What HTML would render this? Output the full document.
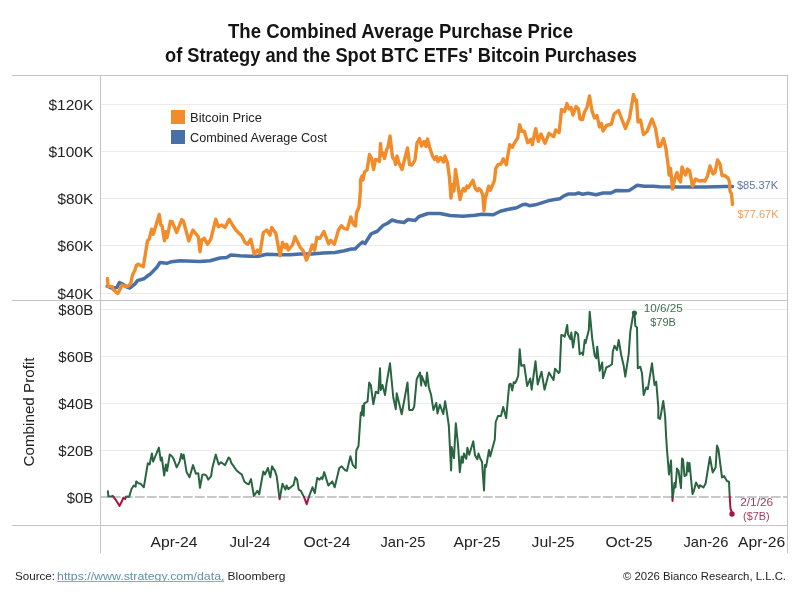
<!DOCTYPE html>
<html><head><meta charset="utf-8"><style>
html,body{margin:0;padding:0;background:#fff;}
body{width:800px;height:600px;overflow:hidden;position:relative;font-family:"Liberation Sans",sans-serif;}
svg{position:absolute;left:0;top:0;will-change:transform;}
text{font-family:"Liberation Sans",sans-serif;}
</style></head><body>
<svg width="800" height="600" viewBox="0 0 800 600">
<rect width="800" height="600" fill="#fff"/>
<!-- title -->
<text x="400.5" y="38" text-anchor="middle" font-size="20" font-weight="bold" fill="#141414" textLength="345" lengthAdjust="spacingAndGlyphs">The Combined Average Purchase Price</text>
<text x="401" y="61.75" text-anchor="middle" font-size="20" font-weight="bold" fill="#141414" textLength="472" lengthAdjust="spacingAndGlyphs">of Strategy and the Spot BTC ETFs' Bitcoin Purchases</text>
<!-- gridlines -->
<g stroke="#ebebeb" stroke-width="1" shape-rendering="crispEdges">
<line x1="100" x2="788" y1="104.5" y2="104.5"/>
<line x1="100" x2="788" y1="151.5" y2="151.5"/>
<line x1="100" x2="788" y1="198.5" y2="198.5"/>
<line x1="100" x2="788" y1="245.5" y2="245.5"/>
<line x1="100" x2="788" y1="293.5" y2="293.5"/>
<line x1="100" x2="788" y1="309.5" y2="309.5"/>
<line x1="100" x2="788" y1="356.5" y2="356.5"/>
<line x1="100" x2="788" y1="403.5" y2="403.5"/>
<line x1="100" x2="788" y1="450.5" y2="450.5"/>
</g>
<line x1="101" x2="787" y1="497" y2="497" stroke="#c8c8c8" stroke-width="2" stroke-dasharray="9.75 2.25" stroke-dashoffset="2.1"/>
<!-- frame -->
<g stroke="#c4c4c4" stroke-width="1" shape-rendering="crispEdges">
<line x1="12" x2="788" y1="75.5" y2="75.5"/>
<line x1="12" x2="788" y1="300.5" y2="300.5"/>
<line x1="12" x2="788" y1="525.5" y2="525.5"/>
<line x1="100.5" x2="100.5" y1="75" y2="553"/>
<line x1="787.5" x2="787.5" y1="75" y2="553"/>
</g>
<!-- y labels top -->
<g font-size="15" fill="#222" text-anchor="end">
<text x="93.3" y="110" textLength="44.8" lengthAdjust="spacingAndGlyphs">$120K</text>
<text x="93.3" y="157" textLength="44.8" lengthAdjust="spacingAndGlyphs">$100K</text>
<text x="93.3" y="204" textLength="35.8" lengthAdjust="spacingAndGlyphs">$80K</text>
<text x="93.3" y="251" textLength="35.8" lengthAdjust="spacingAndGlyphs">$60K</text>
<text x="93.3" y="298.5" textLength="35.8" lengthAdjust="spacingAndGlyphs">$40K</text>
<text x="93.3" y="315" textLength="35" lengthAdjust="spacingAndGlyphs">$80B</text>
<text x="93.3" y="362" textLength="35" lengthAdjust="spacingAndGlyphs">$60B</text>
<text x="93.3" y="409" textLength="35" lengthAdjust="spacingAndGlyphs">$40B</text>
<text x="93.3" y="456" textLength="35" lengthAdjust="spacingAndGlyphs">$20B</text>
<text x="93.3" y="502.5" textLength="26.5" lengthAdjust="spacingAndGlyphs">$0B</text>
</g>
<text transform="translate(34.3,412) rotate(-90)" text-anchor="middle" font-size="15" fill="#222" textLength="109" lengthAdjust="spacingAndGlyphs">Combined Profit</text>
<!-- x labels -->
<g font-size="15" fill="#222" text-anchor="middle">
<text x="174" y="546.8" textLength="47" lengthAdjust="spacingAndGlyphs">Apr-24</text>
<text x="250" y="546.8" textLength="41" lengthAdjust="spacingAndGlyphs">Jul-24</text>
<text x="327" y="546.8" textLength="47" lengthAdjust="spacingAndGlyphs">Oct-24</text>
<text x="403" y="546.8" textLength="45" lengthAdjust="spacingAndGlyphs">Jan-25</text>
<text x="477" y="546.8" textLength="47" lengthAdjust="spacingAndGlyphs">Apr-25</text>
<text x="553" y="546.8" textLength="43" lengthAdjust="spacingAndGlyphs">Jul-25</text>
<text x="629" y="546.8" textLength="47" lengthAdjust="spacingAndGlyphs">Oct-25</text>
<text x="706" y="546.8" textLength="45" lengthAdjust="spacingAndGlyphs">Jan-26</text>
<text x="761.6" y="546.8" textLength="47" lengthAdjust="spacingAndGlyphs">Apr-26</text>
</g>
<!-- legend -->
<rect x="171" y="110" width="14" height="14" fill="#f28c2a"/>
<rect x="171" y="130" width="14" height="14" fill="#4870a6"/>
<g font-size="12.9" fill="#222">
<text x="190" y="121.9" textLength="72" lengthAdjust="spacingAndGlyphs">Bitcoin Price</text>
<text x="190" y="141.9" textLength="137" lengthAdjust="spacingAndGlyphs">Combined Average Cost</text>
</g>
<!-- lines -->
<g fill="none" stroke-linejoin="round" stroke-linecap="round">
<path d="M107.2,286.2 L111.9,288.1 L116.9,287.5 L119.4,282.5 L122.5,284.0 L126.0,286.5 L130.0,288.0 L135.0,283.8 L137.5,280.6 L143.8,278.8 L148.8,275.0 L150.0,274.4 L156.7,267.5 L160.0,262.5 L166.7,263.3 L171.7,261.7 L180.0,260.8 L200.0,261.5 L210.0,260.8 L220.0,258.0 L226.7,257.5 L230.8,255.0 L240.0,255.8 L250.0,256.3 L258.3,256.3 L266.7,254.2 L280.0,254.7 L290.0,254.7 L300.0,254.0 L311.7,253.9 L323.3,253.1 L335.0,252.5 L344.3,250.8 L351.3,249.0 L355.0,249.0 L359.0,245.0 L362.5,242.0 L365.0,243.5 L367.5,239.5 L371.0,234.0 L374.0,232.5 L377.0,231.5 L383.0,225.5 L388.0,223.0 L392.0,220.0 L397.0,221.5 L404.0,222.5 L408.0,219.5 L415.0,220.5 L419.0,216.5 L428.0,213.5 L440.0,213.5 L450.0,215.5 L463.0,216.2 L475.0,215.2 L481.7,214.2 L493.3,214.8 L500.3,211.3 L507.3,209.5 L516.7,207.8 L522.5,204.8 L526.0,204.3 L529.4,205.7 L535.5,204.8 L542.5,202.6 L549.5,200.4 L554.7,199.6 L560.0,198.7 L563.5,196.1 L568.7,193.9 L575.7,193.9 L578.4,193.0 L582.7,194.3 L588.0,193.2 L596.1,194.7 L603.1,193.0 L611.0,193.0 L616.2,190.4 L625.0,190.8 L629.4,190.4 L637.2,185.2 L644.2,186.3 L653.0,186.3 L660.0,186.8 L675.0,187.0 L695.0,187.0 L705.0,187.0 L715.0,186.8 L725.0,186.6 L732.5,186.4" stroke="#4870a6" stroke-width="3.5"/>
<path d="M107.5,278.4 L108.1,286.3 L112.2,286.6 L113.1,289.4 L117.8,293.5 L120.6,288.1 L121.9,285.0 L125.0,286.2 L128.1,286.2 L130.6,283.8 L132.5,275.0 L135.0,270.0 L136.5,265.0 L138.3,264.2 L143.3,266.7 L147.5,240.8 L149.2,239.2 L151.7,229.2 L153.3,234.2 L159.2,214.5 L160.8,225.0 L162.1,225.8 L164.4,240.8 L165.8,231.7 L167.1,237.5 L170.4,221.3 L172.1,221.7 L176.7,232.5 L181.7,219.6 L183.3,220.8 L188.8,240.8 L192.9,230.0 L198.3,236.7 L200.0,251.7 L201.7,240.0 L204.2,238.3 L207.5,244.2 L210.8,239.2 L215.8,219.2 L218.3,226.7 L221.7,225.0 L225.0,227.5 L229.2,219.2 L232.5,225.0 L235.8,230.0 L241.7,235.8 L245.0,242.5 L247.5,244.2 L250.8,239.2 L254.2,254.2 L257.5,250.0 L260.0,253.3 L263.3,232.5 L266.7,230.0 L270.0,235.0 L271.7,227.5 L275.8,233.3 L280.0,255.8 L282.5,242.5 L285.0,247.5 L286.7,244.2 L288.3,250.0 L292.5,245.0 L295.0,236.7 L297.5,241.7 L300.0,247.0 L303.5,251.3 L306.4,260.1 L309.3,253.7 L312.3,244.9 L314.6,250.2 L316.9,237.3 L319.8,238.5 L323.9,231.5 L328.6,243.8 L330.9,240.3 L334.4,244.3 L338.5,229.8 L341.4,225.7 L344.3,228.6 L347.3,229.2 L350.8,216.9 L353.1,223.9 L355.5,226.0 L356.5,213.0 L359.0,207.0 L360.5,190.0 L360.5,180.0 L362.0,176.0 L363.0,180.0 L364.5,172.0 L367.0,170.0 L369.5,154.5 L371.5,158.0 L373.5,169.5 L375.5,159.5 L377.5,160.0 L379.5,161.5 L380.5,143.5 L381.5,155.0 L382.5,152.5 L384.5,158.5 L386.5,150.0 L388.0,147.0 L390.0,136.0 L392.5,157.0 L394.5,160.0 L395.5,164.5 L397.0,156.0 L399.0,163.0 L402.0,169.5 L407.5,148.0 L409.5,164.5 L412.0,165.0 L415.0,160.0 L417.0,143.0 L419.5,138.5 L421.5,146.0 L424.0,141.5 L426.0,146.5 L427.5,139.0 L429.5,147.0 L432.5,156.0 L434.5,159.5 L436.5,156.5 L438.0,161.5 L440.5,157.5 L443.5,162.0 L445.0,156.0 L447.5,163.0 L449.5,178.0 L451.0,198.0 L452.5,184.5 L454.0,191.0 L455.5,169.5 L458.0,186.0 L460.0,199.5 L462.0,191.5 L463.5,188.5 L465.0,191.0 L467.0,186.0 L468.5,187.5 L472.9,180.3 L475.3,188.5 L477.6,190.8 L478.8,188.5 L481.1,190.8 L482.8,194.9 L484.0,210.7 L485.2,199.0 L488.7,186.2 L490.4,190.3 L494.5,180.3 L495.7,168.7 L498.0,164.6 L500.9,164.0 L503.3,158.8 L506.3,164.7 L509.7,144.7 L512.3,147.3 L515.0,142.0 L517.7,138.0 L519.7,124.7 L521.7,131.3 L524.3,131.3 L527.7,142.7 L531.0,139.3 L532.3,144.7 L535.7,128.7 L538.3,141.3 L541.0,134.0 L545.0,143.3 L549.0,133.3 L553.7,136.7 L555.7,130.0 L559.0,132.7 L560.5,120.0 L561.5,109.5 L564.5,111.5 L567.0,103.5 L569.0,109.0 L571.0,107.5 L573.0,115.0 L576.0,106.5 L578.5,109.0 L580.0,119.0 L582.5,119.5 L584.5,112.0 L587.0,107.5 L589.5,96.0 L592.0,111.0 L594.5,118.0 L597.0,115.5 L599.5,127.0 L601.5,123.5 L603.0,131.0 L606.5,125.5 L611.5,124.0 L614.0,114.0 L618.5,110.5 L622.5,121.0 L625.5,128.5 L629.5,118.0 L633.5,94.5 L635.0,100.5 L636.5,100.0 L638.0,122.0 L640.5,120.0 L643.5,134.5 L647.0,131.5 L652.0,119.0 L655.5,128.5 L658.5,146.5 L660.5,146.0 L663.5,138.5 L666.0,149.0 L668.5,168.0 L669.0,175.0 L670.5,168.5 L672.5,189.0 L675.0,178.0 L677.0,172.5 L678.5,178.0 L680.5,182.0 L682.0,167.0 L684.0,172.0 L685.5,175.0 L687.5,169.0 L689.5,170.5 L692.5,186.0 L695.5,179.0 L699.0,181.0 L703.0,180.5 L705.0,181.0 L707.5,176.0 L710.0,166.0 L713.0,174.0 L715.0,172.5 L717.5,160.0 L720.0,164.0 L722.0,175.5 L724.5,175.5 L728.0,178.0 L729.5,182.0 L730.0,191.0 L731.5,194.0 L732.5,204.5" stroke="#f28c2a" stroke-width="3.4"/>
<g stroke-width="2">
<path d="M107.9,491.3 L108.4,496.6 L111.1,496.6 L112.8,495.8 L113.6,497.0" stroke="#286540"/><path d="M113.6,497.0 L114.0,497.6 L116.3,500.7 L119.6,505.9 L121.6,501.8 L123.3,497.8 L125.1,498.9 L126.1,497.0" stroke="#a8153c"/><path d="M126.1,497.0 L126.3,496.6 L129.2,496.8 L131.5,489.0 L133.8,485.5 L135.6,486.7 L136.2,481.4 L138.5,483.2 L140.8,483.8 L143.8,487.3 L147.8,463.3 L149.6,464.5 L151.9,453.4 L153.1,461.6 L158.9,447.6 L160.7,460.4 L161.8,457.5 L164.2,475.6 L165.9,464.5 L167.1,470.9 L169.7,454.6 L172.0,456.3 L173.8,459.3 L176.7,467.4 L179.6,461.6 L181.3,454.0 L182.5,458.7 L183.7,454.6 L186.6,472.1 L189.5,477.3 L193.0,465.1 L195.9,473.8 L198.3,473.3 L200.0,487.8 L202.3,475.0 L204.1,474.4 L206.4,475.6 L208.2,479.7 L211.1,476.2 L212.3,468.0 L215.8,454.6 L218.7,464.5 L221.0,462.2 L225.1,465.1 L228.6,457.5 L230.0,458.7 L231.2,462.8 L232.9,465.1 L236.4,470.3 L239.3,472.7 L241.7,474.4 L244.6,482.0 L247.5,483.8 L248.7,484.3 L251.0,479.1 L253.9,496.0 L257.4,490.8 L259.2,494.3 L263.3,471.5 L265.0,474.4 L267.9,468.0 L270.3,477.3 L272.0,466.3 L274.9,470.9 L276.7,476.2 L279.3,497.0" stroke="#286540"/><path d="M279.3,497.0 L279.6,499.2 L280.0,497.0" stroke="#a8153c"/><path d="M280.0,497.0 L282.5,483.8 L285.4,489.6 L286.6,485.5 L288.3,489.1 L291.3,486.7 L293.6,484.9 L295.3,477.3 L297.1,479.7 L298.7,489.6 L300.8,490.8 L303.8,496.6 L304.0,497.0" stroke="#286540"/><path d="M304.0,497.0 L306.7,504.2 L308.9,497.0" stroke="#a8153c"/><path d="M308.9,497.0 L309.6,494.8 L312.5,487.3 L314.8,493.1 L317.2,477.9 L319.5,479.7 L321.3,477.3 L322.4,479.1 L324.2,472.1 L328.3,485.5 L332.3,481.4 L334.7,487.3 L339.3,468.0 L341.7,466.3 L345.2,470.3 L346.9,470.9 L350.4,456.3 L352.8,465.1 L355.7,468.0 L356.3,450.5 L358.5,446.0 L360.8,412.5 L361.7,415.0 L362.5,405.8 L363.7,415.8 L364.2,403.3 L367.5,401.7 L369.2,382.5 L370.8,385.0 L373.3,404.2 L375.8,391.7 L378.3,393.3 L380.0,368.3 L380.8,390.0 L382.5,385.0 L385.0,395.0 L386.7,382.5 L390.0,363.3 L393.3,397.5 L395.8,409.2 L396.7,393.3 L401.7,414.2 L407.5,382.5 L409.2,410.0 L412.5,410.0 L414.2,406.7 L416.7,379.2 L420.0,372.5 L421.2,385.4 L421.8,376.1 L425.8,386.0 L427.0,372.6 L428.8,387.2 L431.1,394.8 L433.4,409.9 L436.3,402.9 L437.5,413.4 L439.8,404.7 L443.3,414.0 L445.1,401.2 L446.8,411.7 L448.8,425.5 L451.1,470.4 L451.7,447.1 L454.0,458.2 L455.8,423.2 L458.1,445.3 L459.8,472.2 L461.6,456.4 L462.8,462.8 L463.9,453.5 L466.3,458.8 L467.4,447.7 L469.2,454.7 L473.3,441.3 L475.0,455.3 L477.3,459.3 L478.5,453.5 L480.3,458.8 L482.0,461.7 L484.0,490.5 L485.0,465.0 L486.1,466.9 L489.0,450.0 L490.2,456.4 L494.8,439.5 L495.7,422.0 L498.0,416.0 L501.0,416.0 L503.2,407.0 L506.2,418.2 L509.2,384.5 L510.7,383.7 L512.2,390.5 L513.7,382.2 L515.2,383.0 L516.7,380.0 L518.2,375.5 L519.7,349.2 L521.2,365.7 L524.2,365.0 L527.2,386.0 L530.2,378.5 L531.7,389.7 L535.5,361.2 L537.7,384.5 L541.5,371.7 L544.5,389.7 L549.0,372.5 L553.5,380.0 L555.0,368.7 L558.7,373.0 L559.7,371.7 L561.3,335.0 L563.8,335.8 L564.7,336.7 L567.2,325.0 L568.0,334.2 L570.5,339.2 L571.3,332.5 L573.0,347.5 L575.5,331.7 L578.0,334.2 L579.7,354.2 L582.2,352.5 L583.0,355.0 L584.7,340.0 L585.5,343.3 L588.8,330.0 L589.7,311.7 L592.2,338.3 L594.7,355.8 L596.3,358.3 L597.2,346.7 L598.8,361.7 L599.7,370.8 L602.2,362.5 L603.0,378.3 L606.3,367.5 L609.7,365.8 L612.0,364.2 L612.8,351.7 L614.5,345.8 L617.0,350.0 L618.7,340.0 L621.2,355.0 L623.7,365.8 L625.3,376.7 L628.7,354.2 L630.3,331.7 L632.8,316.7 L634.5,312.5 L635.3,325.8 L637.0,327.5 L637.8,368.3 L640.3,366.7 L642.0,373.3 L643.7,395.0 L646.2,387.5 L647.8,389.2 L652.0,363.3 L654.5,385.0 L656.2,381.7 L658.3,406.9 L658.3,418.0 L660.1,418.9 L663.3,401.0 L665.1,416.1 L666.1,436.3 L667.0,450.0 L669.0,474.5 L671.0,460.5 L672.4,497.0" stroke="#286540"/><path d="M672.4,497.0 L672.5,501.0 L672.9,497.0" stroke="#a8153c"/><path d="M672.9,497.0 L674.5,483.0 L675.5,487.5 L677.0,468.5 L678.5,470.5 L681.0,488.0 L682.0,458.5 L683.0,459.5 L684.5,476.0 L686.5,475.0 L687.5,462.5 L688.5,471.5 L689.5,463.0 L692.5,494.0 L694.0,490.5 L696.0,482.5 L699.0,488.0 L700.0,485.3 L703.5,487.4 L705.7,483.2 L709.9,457.0 L712.7,472.5 L715.6,467.6 L717.0,445.6 L718.4,449.2 L722.0,477.5 L724.1,476.1 L726.9,481.0 L729.0,481.7 L729.7,496.6 L729.7,497.0" stroke="#286540"/><path d="M729.7,497.0 L730.5,508.7 L732.6,514.3" stroke="#a8153c"/>
</g>
</g>
<circle cx="634.4" cy="313" r="2.6" fill="#286540"/>
<circle cx="732" cy="514" r="2.7" fill="#a8153c"/>
<!-- annotations -->
<g font-size="11">
<text x="737" y="189" fill="#5a7699">$85.37K</text>
<text x="737.5" y="218" fill="#eba05a">$77.67K</text>
<text x="663.2" y="312" text-anchor="middle" fill="#3f6e4f" textLength="39" lengthAdjust="spacingAndGlyphs">10/6/25</text>
<text x="663" y="326" text-anchor="middle" fill="#3f6e4f">$79B</text>
<text x="756.7" y="505.5" text-anchor="middle" fill="#a33a5e" textLength="33" lengthAdjust="spacingAndGlyphs">2/1/26</text>
<text x="756.3" y="519.5" text-anchor="middle" fill="#a33a5e" textLength="26.5" lengthAdjust="spacingAndGlyphs">($7B)</text>
</g>
<!-- footer -->
<g font-size="11.3" fill="#222">
<text x="15" y="579.6" textLength="40" lengthAdjust="spacingAndGlyphs">Source:</text>
<text x="57" y="579.6" fill="#5b93ad" textLength="167.5" lengthAdjust="spacingAndGlyphs">https://www.strategy.com/data,</text>
<text x="227.5" y="579.6" textLength="58" lengthAdjust="spacingAndGlyphs">Bloomberg</text>
<text x="623" y="579.6" textLength="163" lengthAdjust="spacingAndGlyphs">© 2026 Bianco Research, L.L.C.</text>
</g>
<line x1="57" x2="224" y1="581.5" y2="581.5" stroke="#7fb0c6" stroke-width="1"/>
</svg>
</body></html>
